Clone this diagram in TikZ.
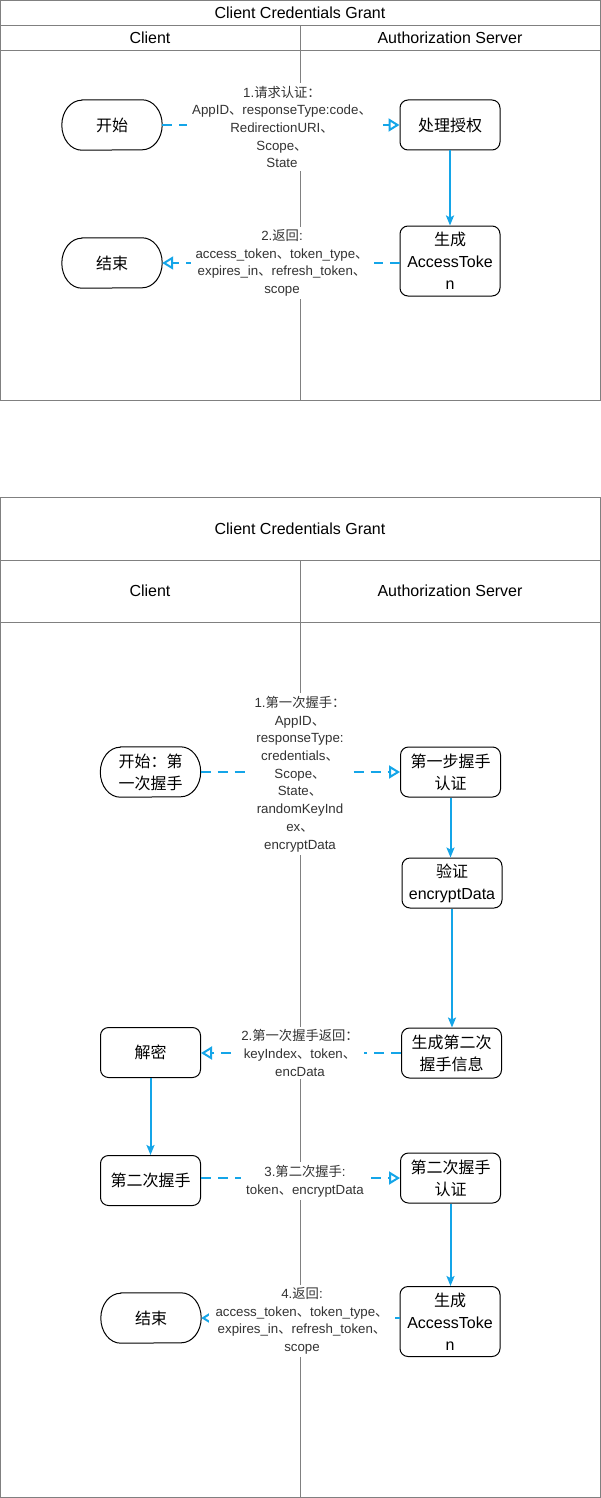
\documentclass[tikz,border=0pt]{standalone}
\usepackage{fontspec}
\setmainfont{Liberation Sans}
\newfontfamily\cjk{Noto Sans CJK SC}
\usetikzlibrary{arrows.meta}
\definecolor{flow}{RGB}{20,165,232}
\definecolor{lane}{RGB}{128,128,128}
\definecolor{lbl}{RGB}{51,51,51}
\newcommand\zh[1]{{\cjk #1}}
\newcommand\termoutline[1]{\draw[termline] ([xshift=20pt]#1.north west) -- ([xshift=-20pt]#1.north east)
  arc[start angle=90,end angle=-90,x radius=20pt,y radius=25pt] -- ([xshift=20pt]#1.south west)
  arc[start angle=270,end angle=90,x radius=20pt,y radius=25pt] -- cycle;}
\begin{document}
\begin{tikzpicture}[x=1pt,y=-1pt,
  lanebox/.style={draw=lane,line width=1pt},
  procbox/.style={draw=black,line width=1pt,rounded corners=8pt,minimum width=100pt,minimum height=50pt,inner sep=2pt,align=center,font=\fontsize{16}{22}\selectfont,fill=white},
  termtext/.style={minimum width=100pt,minimum height=50pt,inner sep=2pt,align=center,font=\fontsize{16}{22}\selectfont},
  termline/.style={draw=black,line width=1pt},
  msg/.style={draw=flow,line width=2pt,dash pattern=on 10pt off 7pt,-{Triangle[open,length=11pt,width=13pt]}},
  flowarrow/.style={draw=flow,line width=2pt,-{Stealth[length=10pt,width=8pt,inset=2pt]}},
  msglabel/.style={fill=white,inner xsep=5pt,inner ysep=3pt,align=center,text=lbl,font=\fontsize{13.3}{17.7}\selectfont},
  titletext/.style={font=\fontsize{16}{19}\selectfont}]

\useasboundingbox (0,0) rectangle (601,1498);

% ---------- top diagram ----------
\draw[lanebox] (0.5,0.5) rectangle (600.5,400.5);
\draw[lanebox] (0.5,25.5) -- (600.5,25.5);
\draw[lanebox] (0.5,50.5) -- (600.5,50.5);
\draw[lanebox] (300.5,25.5) -- (300.5,400.5);
\node[titletext] (t1) at (300,13) {Client Credentials Grant};
\node[titletext] (c1) at (150,38) {Client};
\node[titletext] (s1) at (450,38) {Authorization Server};

\node[termtext] (start1) at (112,125) {\zh{开始}};
\termoutline{start1}
\node[procbox] (auth1) at (450,125) {\zh{处理授权}};
\node[procbox,minimum height=70pt] (gen1) at (450,261) {\zh{生成}\\AccessToke\\n};
\node[termtext] (end1) at (112,263) {\zh{结束}};
\termoutline{end1}

\draw[msg] (start1.east) -- (auth1.west);
\draw[flowarrow] (auth1.south) -- (gen1.north);
\draw[msg] (gen1.west |- end1.east) -- (end1.east);

\node[msglabel] (l1) at (282,127) {1.\zh{请求认证：}\\AppID\zh{、}responseType:code\zh{、}\\RedirectionURI\zh{、}\\Scope\zh{、}\\State};
\node[msglabel] (l2) at (282,263) {2.\zh{返回}:\\access\_token\zh{、}token\_type\zh{、}\\expires\_in\zh{、}refresh\_token\zh{、}\\scope};

% ---------- bottom diagram ----------
\draw[lanebox] (0.5,497.5) rectangle (600.5,1497.5);
\draw[lanebox] (0.5,560.5) -- (600.5,560.5);
\draw[lanebox] (0.5,622.5) -- (600.5,622.5);
\draw[lanebox] (300.5,560.5) -- (300.5,1497.5);
\node[titletext] (t2) at (300,529) {Client Credentials Grant};
\node[titletext] (c2) at (150,591) {Client};
\node[titletext] (s2) at (450,591) {Authorization Server};

\node[termtext] (start2) at (150.5,772) {\zh{开始：第}\\\zh{一次握手}};
\termoutline{start2}
\node[procbox] (step1) at (450.5,772) {\zh{第一步握手}\\\zh{认证}};
\node[procbox] (verify) at (452,883) {\zh{验证}\\encryptData};
\node[procbox] (gen2nd) at (451.5,1053) {\zh{生成第二次}\\\zh{握手信息}};
\node[procbox] (decrypt) at (150.5,1052.5) {\zh{解密}};
\node[procbox] (hs2) at (150.5,1180.5) {\zh{第二次握手}};
\node[procbox] (hs2auth) at (450.5,1178) {\zh{第二次握手}\\\zh{认证}};
\node[procbox,minimum height=70pt] (gen2) at (450,1321.5) {\zh{生成}\\AccessToke\\n};
\node[termtext] (end2) at (151,1318) {\zh{结束}};
\termoutline{end2}

\draw[msg] (start2.east) -- (start2.east -| step1.west);
\draw[flowarrow] (step1.south) -- (step1.south |- verify.north);
\draw[flowarrow] (verify.south) -- (verify.south |- gen2nd.north);
\draw[msg] (gen2nd.west) -- (gen2nd.west -| decrypt.east);
\draw[flowarrow] (decrypt.south) -- (decrypt.south |- hs2.north);
\draw[msg] (hs2.east |- hs2auth.west) -- (hs2auth.west);
\draw[flowarrow] (hs2auth.south) -- (hs2auth.south |- gen2.north);
\draw[msg] (gen2.west |- end2.east) -- (end2.east);

\node[msglabel] (l3) at (300,774) {1.\zh{第一次握手：}\\AppID\zh{、}\\responseType:\\credentials\zh{、}\\Scope\zh{、}\\State\zh{、}\\randomKeyInd\\ex\zh{、}\\encryptData};
\node[msglabel] (l4) at (300,1053) {2.\zh{第一次握手返回：}\\keyIndex\zh{、}token\zh{、}\\encData};
\node[msglabel] (l5) at (305,1181) {3.\zh{第二次握手}:\\token\zh{、}encryptData};
\node[msglabel,inner xsep=6.5pt] (l6) at (302,1321) {4.\zh{返回}:\\access\_token\zh{、}token\_type\zh{、}\\expires\_in\zh{、}refresh\_token\zh{、}\\scope};
\end{tikzpicture}
\end{document}
